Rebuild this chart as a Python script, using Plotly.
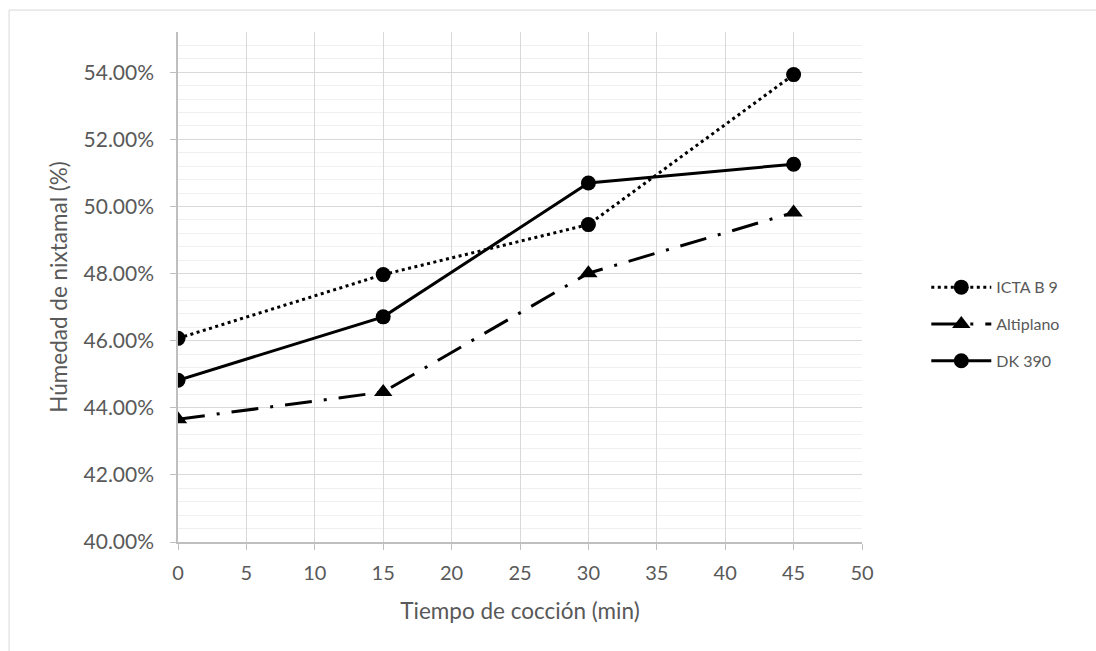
import plotly.graph_objects as go

tiempo = [0, 15, 30, 45]
icta_b9 = [0.4607, 0.4797, 0.4946, 0.5393]
altiplano = [0.4366, 0.4447, 0.4801, 0.4982]
dk390 = [0.4482, 0.4671, 0.5070, 0.5126]

series = [
    ("ICTA B 9", icta_b9, "3px,3.5px", "circle"),
    ("Altiplano", altiplano, "27px,12px,3px,12px", "triangle-up"),
    ("DK 390", dk390, "solid", "circle"),
]

fig = go.Figure()
for name, vals, dash, sym in series:
    fig.add_trace(go.Scatter(
        x=tiempo, y=vals, name=name, legendgroup=name, mode="lines+markers",
        line=dict(color="black", width=3, dash=dash),
        marker=dict(symbol=sym, size=15 if sym == "circle" else 16, color="black"),
    ))

font = "Lato, Open Sans, sans-serif"
grey = "#595959"
fig.update_layout(
    width=1096, height=651,
    margin=dict(l=178, r=234, t=32, b=109),
    paper_bgcolor="white", plot_bgcolor="white",
    font=dict(family=font, size=18, color=grey),
    showlegend=True,
    legend=dict(x=1.094, xanchor="left", y=0.427, yanchor="middle",
                font=dict(size=16, color=grey), tracegroupgap=13,
                itemwidth=60,
                bgcolor="rgba(0,0,0,0)"),
    xaxis=dict(
        range=[0, 50], dtick=5, tick0=0,
        showgrid=True, gridcolor="#d9d9d9", gridwidth=1.3,
        showline=True, linecolor="#bfbfbf", linewidth=1.5,
        ticks="outside", ticklen=6, tickcolor="#bfbfbf",
        zeroline=False, ticklabelstandoff=6,
        title=dict(text="Tiempo de cocción (min)", font=dict(size=22.5, color=grey), standoff=20),
        tickfont=dict(size=20, color=grey),
    ),
    yaxis=dict(
        range=[0.40, 0.552], dtick=0.02, tick0=0.40, tickformat=".2%",
        showgrid=True, gridcolor="#d9d9d9", gridwidth=1.3,
        minor=dict(dtick=0.004, showgrid=True, gridcolor="#f0f0f0", gridwidth=1),
        showline=True, linecolor="#bfbfbf", linewidth=1.5,
        ticks="outside", ticklen=6, tickcolor="#bfbfbf",
        zeroline=False, ticklabelstandoff=12,
        title=dict(text="Húmedad de nixtamal (%)", font=dict(size=22.5, color=grey), standoff=10),
        tickfont=dict(size=21, color=grey),
    ),
)

fig.add_shape(type="rect", xref="paper", yref="paper",
              x0=-0.247, x1=1.36, y0=-0.25, y1=1.043,
              line=dict(color="#d9d9d9", width=1), layer="below")

fig.write_html("out.html")
